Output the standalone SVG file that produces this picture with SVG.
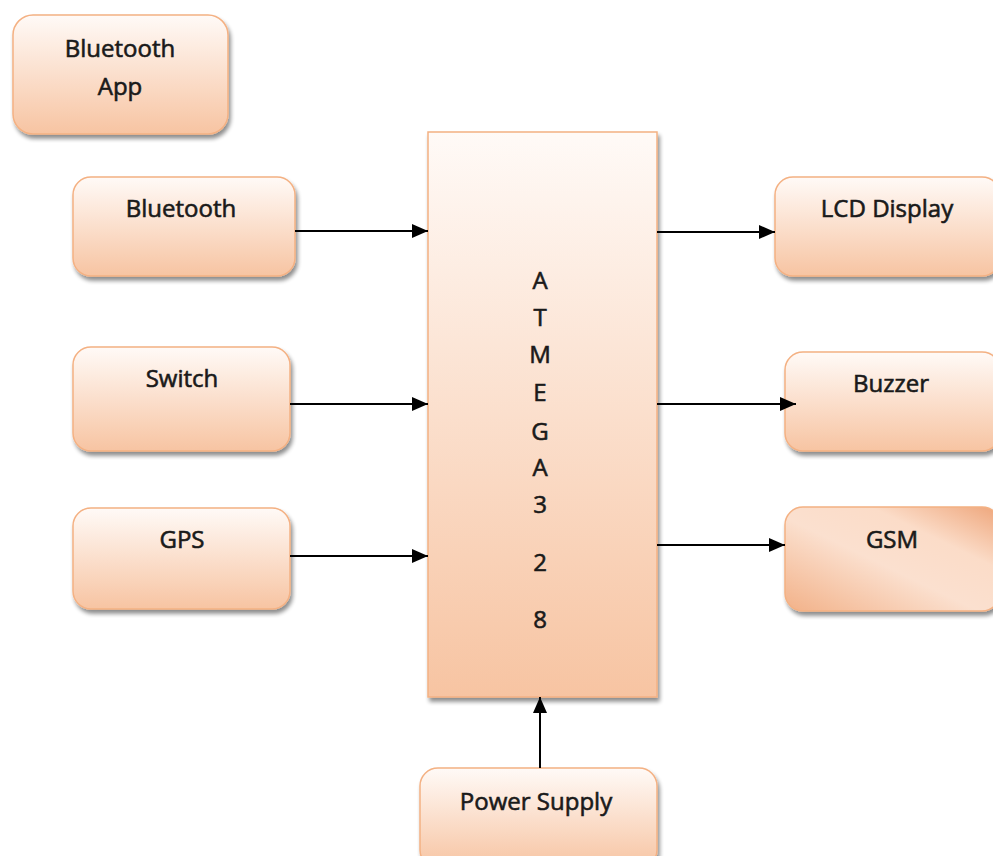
<svg xmlns="http://www.w3.org/2000/svg" width="993" height="856" viewBox="0 0 993 856">
<defs>
<linearGradient id="g" x1="0" y1="0" x2="0" y2="1">
<stop offset="0" stop-color="#fffaf7"/>
<stop offset="1" stop-color="#f7c4a2"/>
</linearGradient>
<linearGradient id="gsm" x1="0" y1="1" x2="1" y2="0">
<stop offset="0" stop-color="#f2b188"/>
<stop offset="0.45" stop-color="#fbe0cf"/>
<stop offset="0.7" stop-color="#fbdcc8"/>
<stop offset="1" stop-color="#eea57a"/>
</linearGradient>
<filter id="sh" x="-10%" y="-10%" width="125%" height="130%">
<feGaussianBlur in="SourceAlpha" stdDeviation="2"/>
<feOffset dx="2" dy="4" result="b"/>
<feComponentTransfer><feFuncA type="linear" slope="0.45"/></feComponentTransfer>
<feMerge><feMergeNode/><feMergeNode in="SourceGraphic"/></feMerge>
</filter>
<marker id="arrl" markerWidth="16" markerHeight="14" refX="16" refY="7" orient="auto" markerUnits="userSpaceOnUse" viewBox="0 0 16 14">
<path d="M0,0 L16,7 L0,14 z" fill="#000"/>
</marker>
</defs>
<style>
.box{fill:url(#g);stroke:#f4b183;stroke-width:1.5;filter:url(#sh)}
.t{font-family:"Open Sans","Liberation Sans",Arial,sans-serif;font-size:24px;fill:#1a1a1a;stroke:#1a1a1a;stroke-width:0.6;text-anchor:middle}
.c{stroke:#000;stroke-width:2;fill:none;marker-end:url(#arrl)}
</style>
<rect width="993" height="856" fill="#fff"/>
<g id="bluetooth-app">
<rect class="box" x="13" y="15" width="215" height="119" rx="20"/>
<text class="t" x="120" y="57">Bluetooth</text>
<text class="t" x="120" y="95">App</text>
</g>
<g id="bluetooth">
<rect class="box" x="73" y="177" width="222" height="99" rx="18"/>
<text class="t" x="181" y="217">Bluetooth</text>
</g>
<g id="switch">
<rect class="box" x="73" y="347" width="217" height="104" rx="18"/>
<text class="t" x="182" y="387">Switch</text>
</g>
<g id="gps">
<rect class="box" x="73" y="508" width="217" height="101" rx="18"/>
<text class="t" x="182" y="548">GPS</text>
</g>
<g id="atmega328">
<rect class="box" x="428" y="132" width="229" height="565" rx="0"/>
<text class="t" x="540" y="289">A</text>
<text class="t" x="540" y="326">T</text>
<text class="t" x="540" y="363">M</text>
<text class="t" x="540" y="401">E</text>
<text class="t" x="540" y="440">G</text>
<text class="t" x="540" y="476">A</text>
<text class="t" x="540" y="513">3</text>
<text class="t" x="540" y="571">2</text>
<text class="t" x="540" y="628">8</text>
</g>
<g id="lcd-display">
<rect class="box" x="775" y="177" width="225" height="99" rx="18"/>
<text class="t" x="887" y="217">LCD Display</text>
</g>
<g id="buzzer">
<rect class="box" x="785" y="352" width="215" height="99" rx="18"/>
<text class="t" x="891" y="392">Buzzer</text>
</g>
<g id="gsm">
<rect class="box" x="785" y="507" width="215" height="104" rx="18" style="fill:url(#gsm)"/>
<text class="t" x="892" y="548">GSM</text>
</g>
<g id="power-supply">
<rect class="box" x="420" y="768" width="237" height="100" rx="18"/>
<text class="t" x="536" y="810">Power Supply</text>
</g>
<g id="connectors">
<line class="c" x1="295" y1="231" x2="428" y2="231"/>
<line class="c" x1="290" y1="404" x2="428" y2="404"/>
<line class="c" x1="290" y1="556" x2="428" y2="556"/>
<line class="c" x1="657" y1="232" x2="775" y2="232"/>
<line class="c" x1="657" y1="404" x2="796" y2="404"/>
<line class="c" x1="657" y1="545" x2="785" y2="545"/>
<line class="c" x1="540" y1="768" x2="540" y2="697"/>
</g>
</svg>
